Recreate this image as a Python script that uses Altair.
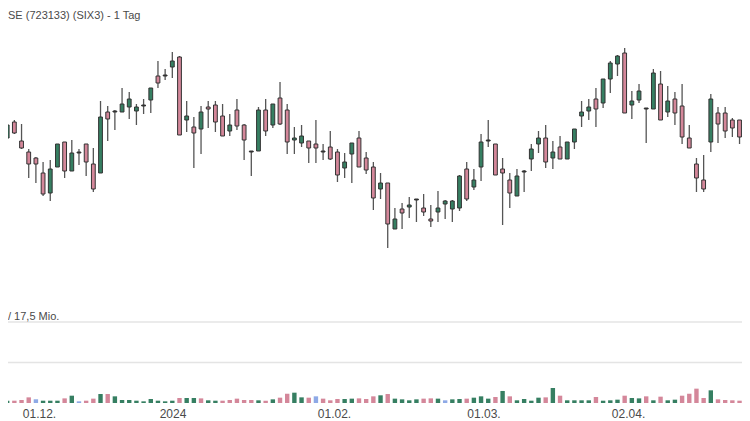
import altair as alt
import pandas as pd

title_text = "SE (723133) (SIX3) - 1 Tag"
vol_label_text = "/ 17,5 Mio."

open_ = [26.3, 28.2, 29.8, 27.9, 26.8, 26.2, 24.7, 22.7, 25.3, 27.8,
         24.9, 26.7, 27.6, 25.6, 24.7, 30.8, 30.8, 30.8, 31.3, 30.9,
         31.4, 32.0, 34.4, 34.4, 35.3, 36.3, 30.0, 29.3, 29.1, 31.3,
         31.5, 30.4, 28.9, 31.0, 29.5, 26.9, 26.9, 31.0, 29.5, 32.2,
         31.0, 28.0, 27.7, 27.9, 27.6, 26.8, 27.3, 26.8, 25.2, 26.6,
         28.2, 26.2, 25.3, 23.1, 23.7, 19.1, 21.1, 21.3, 22.1, 21.2,
         20.1, 20.8, 21.6, 21.1, 21.2, 25.1, 23.3, 25.3, 27.9, 27.6,
         25.1, 24.0, 22.4, 24.8, 26.1, 27.6, 28.2, 26.2, 27.3, 26.1,
         27.8, 30.4, 30.9, 32.1, 31.7, 34.1, 35.6, 36.7, 31.5, 32.0,
         31.2, 31.1, 33.6, 30.8, 32.1, 31.4, 28.2, 25.6, 24.0, 27.8,
         30.7, 30.7, 30.0, 30.0, 27.6]
close = [28.9, 29.5, 28.7, 27.2, 25.6, 25.6, 22.6, 25.1, 27.6, 24.9,
         26.7, 26.8, 25.8, 23.1, 30.3, 30.1, 30.9, 31.6, 32.1, 31.3,
         31.5, 33.2, 33.7, 34.5, 35.9, 28.5, 30.4, 28.7, 30.8, 31.1,
         29.8, 28.4, 29.5, 29.4, 28.0, 26.8, 31.0, 28.9, 31.6, 29.6,
         27.8, 28.2, 28.4, 27.2, 27.2, 26.9, 26.1, 24.5, 25.8, 27.7,
         25.3, 25.0, 22.2, 23.7, 19.6, 20.1, 20.7, 21.5, 22.0, 20.8,
         19.9, 21.2, 21.9, 21.9, 24.4, 22.1, 24.0, 27.8, 28.0, 24.5,
         24.7, 22.7, 24.4, 24.9, 27.1, 28.2, 25.8, 26.8, 26.1, 27.8,
         29.1, 30.8, 31.3, 31.1, 34.1, 35.7, 36.4, 30.7, 31.9, 32.9,
         31.1, 34.7, 30.0, 31.9, 30.7, 28.3, 27.2, 24.2, 23.1, 32.1,
         29.6, 28.9, 29.2, 28.3, 26.6]
high = [29.0, 29.7, 30.0, 29.6, 27.1, 26.3, 25.8, 26.0, 27.6, 27.8,
        28.0, 27.1, 27.6, 27.2, 31.9, 31.4, 31.0, 33.2, 32.8, 31.6,
        32.1, 33.2, 35.9, 35.1, 36.8, 36.4, 31.9, 30.3, 31.4, 31.9,
        31.9, 31.6, 30.6, 32.1, 29.6, 26.9, 31.3, 32.1, 31.6, 33.8,
        31.6, 29.3, 29.5, 27.9, 30.0, 27.6, 28.9, 27.1, 26.7, 27.7,
        28.9, 26.8, 25.8, 24.7, 23.7, 21.2, 21.7, 22.3, 22.1, 22.6,
        21.5, 22.9, 22.0, 22.0, 24.5, 25.8, 25.1, 28.6, 30.0, 27.6,
        26.2, 24.7, 25.1, 25.0, 27.6, 28.9, 29.5, 27.9, 28.4, 27.8,
        29.1, 31.9, 32.1, 33.2, 34.1, 35.9, 36.5, 37.2, 32.9, 33.6,
        31.2, 35.1, 34.9, 33.4, 32.8, 33.6, 29.5, 26.2, 26.5, 32.6,
        31.3, 31.3, 30.2, 30.0, 27.8]
low = [25.7, 27.5, 28.6, 27.1, 24.2, 23.7, 22.4, 21.9, 25.3, 24.2,
       24.9, 25.5, 24.4, 22.8, 24.7, 27.9, 29.0, 30.8, 30.1, 29.5,
       30.6, 30.7, 33.2, 34.0, 34.2, 28.5, 28.8, 25.2, 26.6, 29.2,
       28.8, 28.4, 28.4, 29.0, 26.0, 24.4, 26.9, 28.4, 29.2, 29.5,
       26.6, 26.6, 27.3, 25.7, 25.7, 26.0, 26.0, 23.8, 24.2, 23.7,
       25.3, 24.6, 21.0, 22.1, 17.2, 19.1, 19.1, 20.2, 19.8, 20.4,
       19.3, 19.8, 20.1, 19.8, 20.9, 21.9, 23.0, 23.9, 27.3, 24.5,
       19.5, 21.2, 22.4, 22.8, 24.9, 26.7, 25.2, 25.1, 26.1, 26.1,
       27.1, 29.3, 30.0, 29.3, 31.2, 32.7, 34.4, 30.7, 30.1, 31.7,
       27.7, 31.1, 30.0, 30.3, 29.5, 27.6, 27.2, 22.8, 22.8, 26.8,
       27.7, 28.2, 28.3, 27.6, 25.7]
volume = [0.5, 0.5, 0.5, 0.65, 1.22, 0.8, 0.5, 0.5, 0.5, 1.0,
          1.58, 0.36, 0.5, 0.94, 1.94, 1.94, 1.44, 0.65, 0.65, 0.5,
          0.36, 0.86, 0.5, 0.36, 0.5, 1.08, 1.08, 1.08, 1.0, 0.58,
          0.5, 0.5, 0.65, 0.94, 0.65,
          0.65, 0.58, 0.5, 0.79, 1.15, 2.0, 2.23, 1.22, 1.15, 1.44,
          0.94, 0.58, 0.86, 0.86, 0.94, 1.0, 0.86, 1.44, 1.66, 1.94,
          0.94, 0.79, 0.58, 0.79, 0.94, 1.0, 0.94, 0.58, 0.79, 0.86,
          0.94, 1.15, 1.44, 0.94, 1.3,
          2.6, 1.44, 0.58, 0.86, 0.5, 1.15, 1.22, 3.24, 1.58, 0.58,
          0.58, 0.58, 0.58, 1.3, 0.5, 0.58, 0.72, 1.58, 1.08, 1.0,
          1.44, 0.58, 1.37, 0.58, 0.72, 1.58, 2.0, 3.1, 1.08, 2.74,
          0.79, 0.65, 0.58, 0.5, 0.79]
vol_dir = (list("ggrrrbgggrgbrrgrgggggggggrggrggrrrr")
           + list("rgrgrrggrbrrrggrrrgrggggrrgbggrgggr")
           + list("grggggrgrggggrgggrggrgrggrrrrgrrrrr"))

tick_pos = [5.43, 24.03, 46.52, 67.34, 87.47]
tick_labels = ["01.12.", "2024", "01.02.", "01.03.", "02.04."]
vol_grid = [8.75, 17.5]

n = len(open_)
kind = []
for o, c in zip(open_, close):
    if abs(c - o) < 0.15:
        kind.append("doji")
    elif c > o:
        kind.append("up")
    else:
        kind.append("down")

df = pd.DataFrame({"i": list(range(n)), "open": open_, "high": high,
                   "low": low, "close": close, "vol": volume,
                   "vdir": vol_dir, "kind": kind})

label_expr = ""
for p, l in zip(tick_pos, tick_labels):
    label_expr += f"abs(datum.value - {p}) < 0.01 ? '{l}' : "
label_expr += "''"

FONT = "Liberation Sans"
W, H = 734, 395
spacing = 7.18
xdom = [8 / spacing, (8 + W) / spacing]

x_enc = alt.X("i:Q", scale=alt.Scale(domain=xdom, nice=False, zero=False, padding=0),
              axis=alt.Axis(values=tick_pos, labelExpr=label_expr, title=None,
                            ticks=False, tickSize=0, domain=False, grid=False,
                            labelFontSize=12, labelColor="#4a4a4a",
                            labelFont=FONT, labelPadding=5,
                            labelFlush=False, labelOverlap=False))

price_scale = alt.Scale(domain=[16, 38], range=[252, 32], nice=False, zero=False)
vol_scale = alt.Scale(domain=[0, 17.5], range=[395, 314], nice=False, zero=False)

base = alt.Chart(df)

wicks = base.mark_rule(color="#555555", strokeWidth=1.3).encode(
    x=x_enc,
    y=alt.Y("low:Q", scale=price_scale, axis=None),
    y2="high:Q",
)

bodies = base.mark_bar(size=3.8, stroke="#333333", strokeWidth=1).encode(
    x=x_enc,
    y=alt.Y("open:Q", scale=price_scale, axis=None),
    y2="close:Q",
    color=alt.Color("kind:N", legend=None,
                    scale=alt.Scale(domain=["up", "down", "doji"],
                                    range=["#367f62", "#d4879a", "#333333"])),
)

grid = alt.Chart(pd.DataFrame({"g": vol_grid})).mark_rule(
    color="#e4e4e4", strokeWidth=1.3).encode(
    y=alt.Y("g:Q", scale=vol_scale, axis=None),
)

vols = base.mark_bar(size=4.4).encode(
    x=x_enc,
    y=alt.Y("vol:Q", scale=vol_scale, axis=None),
    color=alt.Color("vdir:N", legend=None,
                    scale=alt.Scale(domain=["g", "r", "b"],
                                    range=["#367f62", "#d4879a", "#8ea9e6"])),
)

title_mark = alt.Chart(pd.DataFrame({"t": [title_text]})).mark_text(
    align="left", baseline="middle", fontSize=11, font=FONT, color="#4a4a4a"
).encode(x=alt.value(0), y=alt.value(8), text="t:N")

vol_label = alt.Chart(pd.DataFrame({"t": [vol_label_text]})).mark_text(
    align="left", baseline="middle", fontSize=11, font=FONT, color="#4a4a4a"
).encode(x=alt.value(0), y=alt.value(308.5), text="t:N")

chart = alt.layer(grid, vols, wicks, bodies, title_mark, vol_label).resolve_scale(
    y="independent", color="independent"
).properties(
    width=W, height=H,
    autosize=alt.AutoSizeParams(type="none"),
    padding={"left": 0, "top": 0, "right": 0, "bottom": 18},
    background="white",
).configure_view(stroke=None)

chart.save("out.html", embed_options={"renderer": "svg", "actions": False})
